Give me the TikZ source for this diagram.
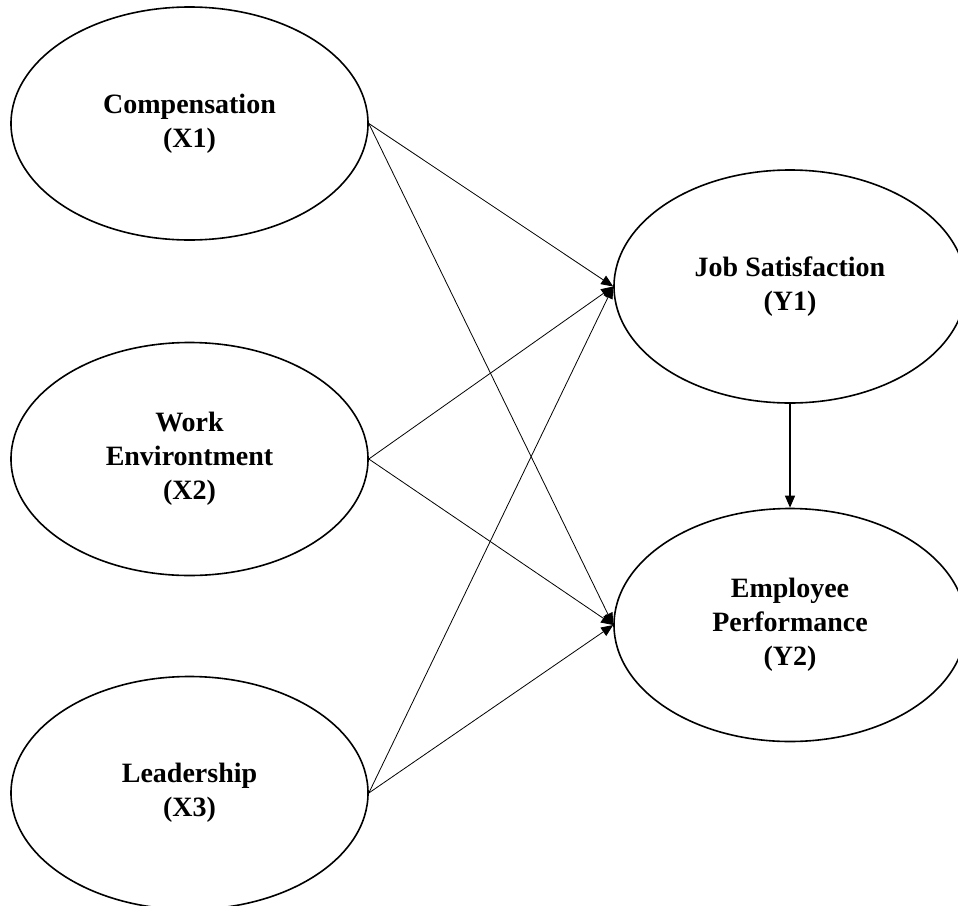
\documentclass[tikz,border=0pt]{standalone}
\usepackage{fontspec}
\setmainfont{Liberation Serif}
\usetikzlibrary{shapes.geometric,arrows.meta}
\begin{document}
\begin{tikzpicture}[x=1pt,y=-1pt,
  latent/.style={ellipse,draw,line width=1.6pt,inner sep=0pt,
     minimum width=357pt,minimum height=233pt,align=center,
     font=\fontsize{28}{34}\selectfont\bfseries},
  latentr/.style={latent,minimum width=352pt},
  path/.style={line width=0.8pt,-{Triangle[length=12pt,width=10pt]}}]
\useasboundingbox (0,0) rectangle (958,905);
\node[latent] (x1) at (189.5,123.5) {Compensation\\(X1)};
\node[latent] (x2) at (189.5,459) {Work\\Environtment\\(X2)};
\node[latent] (x3) at (189.5,793) {Leadership\\(X3)};
\node[latentr] (y1) at (790,286.5) {Job Satisfaction\\(Y1)};
\node[latentr] (y2) at (790,625) {Employee\\Performance\\(Y2)};
\draw[path] (x1.east) -- (y1.west);
\draw[path] (x1.east) -- (y2.west);
\draw[path] (x2.east) -- (y1.west);
\draw[path] (x2.east) -- (y2.west);
\draw[path] (x3.east) -- (y1.west);
\draw[path] (x3.east) -- (y2.west);
\draw[path,line width=1.2pt] (y1.south) -- (y2.north);
\end{tikzpicture}
\end{document}
